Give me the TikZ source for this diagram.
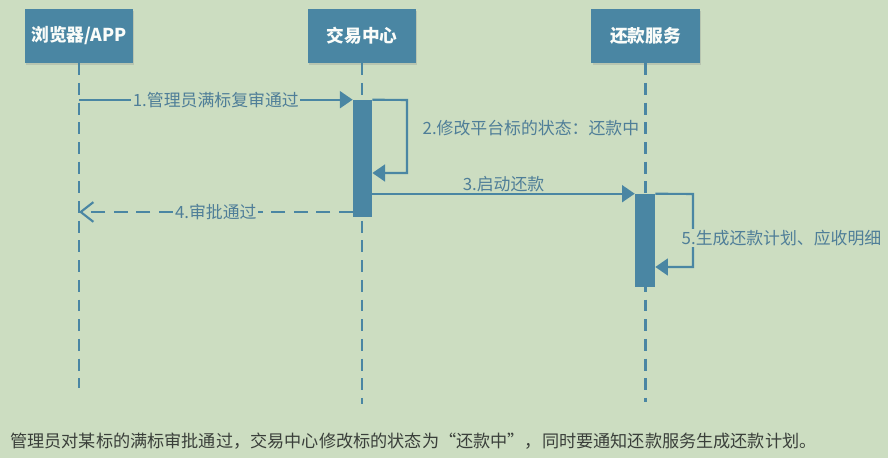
\documentclass[tikz,border=0pt]{standalone}
\usepackage{fontspec}
\newfontfamily\cjk{Noto Sans CJK SC}
\usetikzlibrary{arrows.meta,shadows}
\definecolor{bgcol}{HTML}{CCDDC1}
\definecolor{boxcol}{HTML}{4A86A3}
\definecolor{linecol}{HTML}{4A86A3}
\definecolor{labelcol}{HTML}{4F7E98}
\definecolor{notecol}{HTML}{3A3F3A}

\begin{document}
\begin{tikzpicture}[x=0.025cm,y=-0.025cm]
\tikzset{
  actor/.style={rectangle,fill=boxcol,minimum width=2.7cm,minimum height=1.35cm,inner sep=0pt,
    text=white!90!bgcol,font=\cjk\bfseries\fontsize{12.6}{14}\selectfont,
    drop shadow={opacity=0.25,shadow xshift=1pt,shadow yshift=-1.2pt}},
  activation/.style={rectangle,fill=boxcol,minimum width=0.48cm,inner sep=0pt},
  lifeline/.style={draw=linecol,line width=1.9pt,dash pattern=on 8.5pt off 5.5pt},
  msg/.style={draw=linecol,line width=1.5pt,-{Triangle[length=9pt,width=12pt]}},
  reply/.style={draw=linecol,line width=1.5pt,dash pattern=on 10pt off 6pt,
    -{Straight Barb[length=9pt,width=14pt,line width=1.5pt]}},
  msglabel/.style={fill=bgcol,inner sep=1pt,text=labelcol,font=\cjk\fontsize{12}{14}\selectfont}
}
% background
\fill[bgcol] (0,0) rectangle (888,458);
\useasboundingbox (0,0) rectangle (888,458);

% actors
\node[actor] (n_browser) at (79,36) {浏览器/APP};
\node[actor] (n_trade) at (362,36) {交易中心};
\node[actor] (n_repay) at (645.5,36) {还款服务};

% lifeline ends
\coordinate (c_browser_end) at (79,388);
\coordinate (c_trade_end) at (362,404);
\coordinate (c_repay_end) at (645.5,402);
\draw[lifeline] (n_browser.south) -- (c_browser_end);
\draw[lifeline] (n_trade.south) -- (c_trade_end);
\draw[lifeline] (n_repay.south) -- (c_repay_end);

% activation bars
\node[activation,minimum height=2.925cm] (n_tradebar) at (362.5,158.5) {};
\node[activation,minimum height=2.325cm,minimum width=0.5cm] (n_repaybar) at (645,240.5) {};

% helper points
\coordinate (c_self2_top) at (407,100);
\coordinate (c_self2_bot) at (407,173);
\coordinate (c_m4) at (0,212);
\coordinate (c_self5_top) at (693,194);
\coordinate (c_self5_bot) at (693,267);

% messages
\draw[msg] (n_browser.south |- n_tradebar.north) -- node[msglabel]{1.管理员满标复审通过} (n_tradebar.north west);
\draw[msg] (n_tradebar.north east) -- (c_self2_top) -- (c_self2_bot) -- (n_tradebar.east |- c_self2_bot);
\node[msglabel,fill=none,anchor=west] (n_lbl2) at (421,128) {2.修改平台标的状态：还款中};
\draw[msg] (n_tradebar.east |- n_repaybar.north) -- node[msglabel,yshift=7pt]{3.启动还款} (n_repaybar.north west);
\draw[reply] (n_tradebar.west |- c_m4) -- node[msglabel]{4.审批通过} (n_browser.south |- c_m4);
\draw[msg] (n_repaybar.north east) -- (c_self5_top) -- (c_self5_bot) -- (n_repaybar.east |- c_self5_bot);
\node[msglabel,anchor=west] (n_lbl5) at (680,238) {5.生成还款计划、应收明细};

% note
\node[anchor=west,inner sep=0pt,text=notecol,font=\cjk\fontsize{12.2}{14}\selectfont] (n_note) at (10,441)
  {管理员对某标的满标审批通过，交易中心修改标的状态为“还款中”，同时要通知还款服务生成还款计划。};
\end{tikzpicture}
\end{document}
